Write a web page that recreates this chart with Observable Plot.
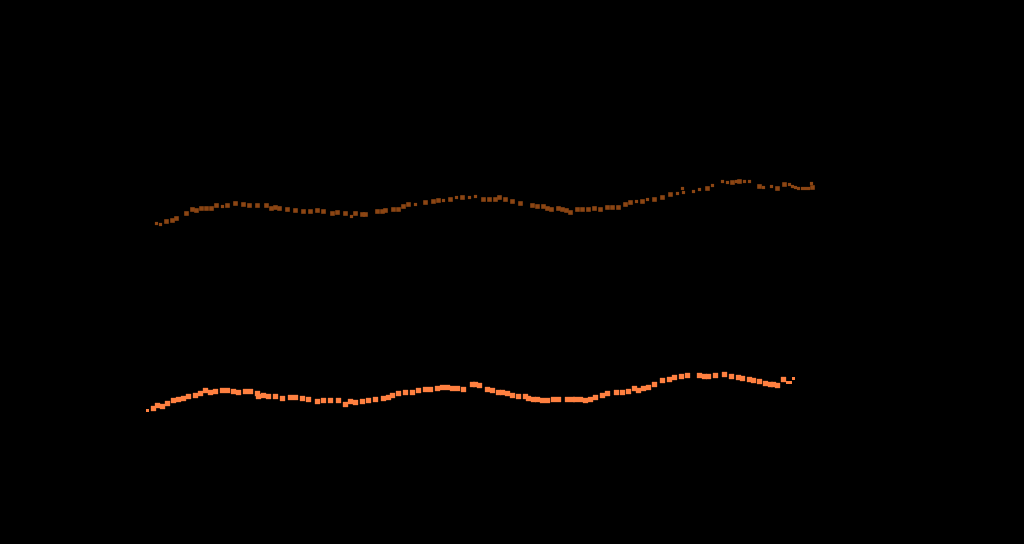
<!DOCTYPE html>
<html>
<head>
<meta charset="utf-8">
<script src="https://cdn.jsdelivr.net/npm/d3@7"></script>
<script src="https://cdn.jsdelivr.net/npm/@observablehq/plot@0.6"></script>
<style>
  html, body { margin: 0; padding: 0; background: #000; }
  #chart svg { display: block; }
</style>
</head>
<body>
<div id="chart"></div>
<script>
// Upper series (dark orange): position t, value v
const upperT = [156,160,166,172,176,186,192,196,201,206,211,216,222,227,235,243,249,257,266,271,275,279,287,295,303,310,317,323,332,337,345,351,355,362,365,377,382,385,393,398,403,408,415,425,433,438,443,450,456,462,469,475,483,489,495,499,505,512,520,532,537,543,547,551,558,562,566,570,577,582,588,594,600,607,612,618,625,630,636,642,647,654,662,670,677,682,683,693,699,707,712,722,727,732,736,739,744,749,759,763,771,777,784,789,792,795,798,802,805,808,811,812];
const upperV = [321,320,323,324,326,331,335,334,336,336,336,339,338,339,341,340,339,339,339,336,337,336,335,334,333,333,334,333,331,332,331,328,331,330,330,333,333,334,335,335,338,340,340,342,343,344,344,345,347,347,347,348,345,345,345,347,345,343,341,339,338,338,336,335,336,335,334,332,335,335,335,336,335,337,337,337,340,342,343,343,345,345,347,350,351,356,352,353,355,356,359,363,362,362,363,363,363,363,358,357,358,356,360,360,358,357,356,356,356,356,361,357];
const upperSmall = [156,160,222,351,415,443,456,469,475,636,647,677,682,683,693,699,712,722,727,736,744,749,763,771,789,792,795,798,802,805,808,811];

// Lower series (light orange)
const lowerT = [147,153,157,162,167,173,178,183,188,195,200,205,210,215,222,227,233,238,245,250,257,258,263,268,275,282,290,295,302,308,317,323,330,338,345,350,355,362,368,375,383,388,392,398,405,412,418,425,430,437,442,447,452,457,463,472,475,479,487,492,498,502,507,512,518,525,528,533,537,542,547,553,558,567,572,575,580,585,590,595,602,607,616,622,628,634,638,643,648,654,662,669,674,681,687,699,704,708,715,724,731,738,742,749,753,759,765,770,773,777,783,787,790,793];
const lowerV = [134,136,139,138,141,144,145,146,148,149,151,154,152,153,154,154,153,152,153,153,151,148,149,148,148,146,147,147,146,145,143,144,144,144,140,143,142,143,144,145,146,147,149,151,152,152,154,155,155,156,157,157,156,156,155,160,160,159,155,154,152,152,151,149,148,148,146,145,145,144,144,145,145,145,145,145,145,144,145,147,149,151,152,152,153,156,154,156,157,160,164,165,167,168,169,169,168,168,169,170,168,167,166,165,164,163,161,160,160,159,165,162,162,166];
const lowerSmall = [147,787,790,793];

const upper = upperT.map((t, i) => ({t, v: upperV[i], small: upperSmall.includes(t)}));
const lower = lowerT.map((t, i) => ({t, v: lowerV[i], small: lowerSmall.includes(t)}));

const chart = Plot.plot({
  width: 1024,
  height: 544,
  margin: 0,
  style: {background: "#000", color: "#000"},
  x: {domain: [0, 1024], axis: null},
  y: {domain: [0, 544], axis: null},
  r: {type: "identity"},
  marks: [
    Plot.dot(upper, {x: "t", y: "v", symbol: "square", r: d => d.small ? 1.8 : 2.6, fill: "#8b4513", stroke: "none"}),
    Plot.dot(lower, {x: "t", y: "v", symbol: "square", r: d => d.small ? 1.7 : 3.0, fill: "#ff8040", stroke: "none"})
  ]
});
document.getElementById("chart").appendChild(chart);
</script>
</body>
</html>
